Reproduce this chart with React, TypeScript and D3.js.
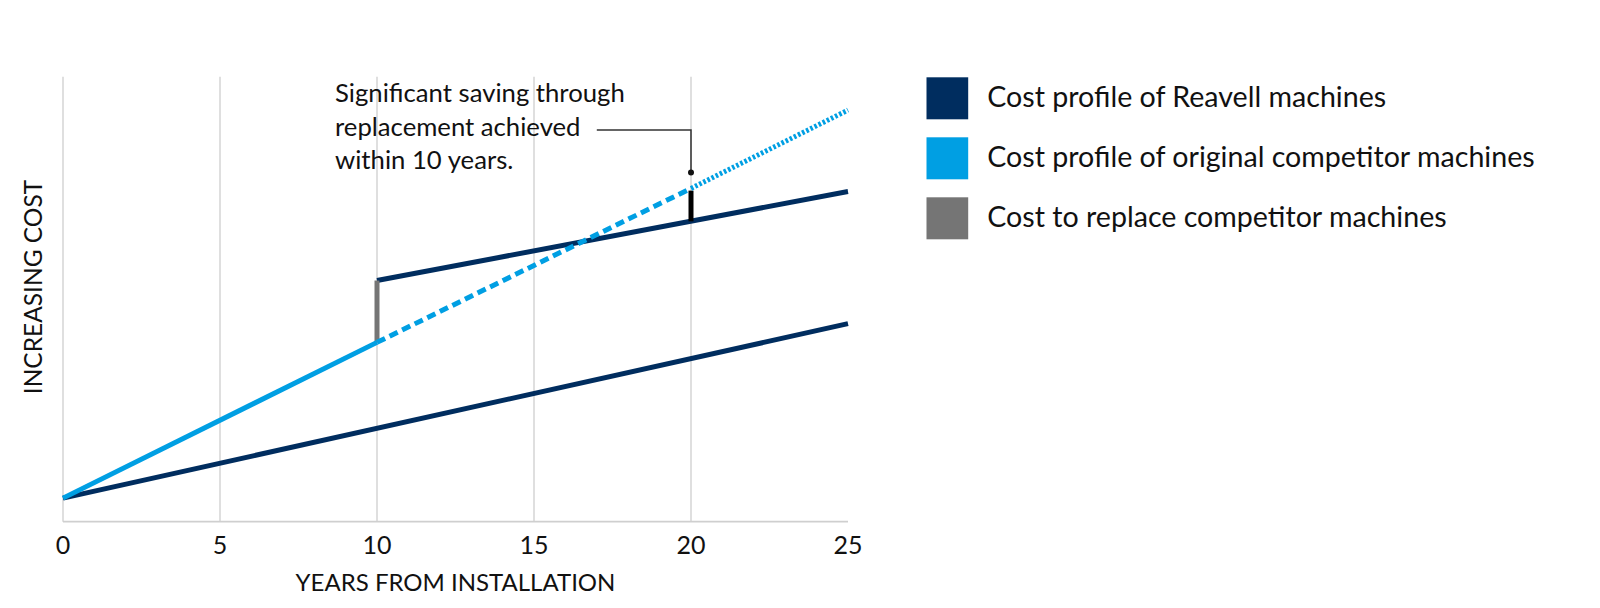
import React from "react";
import * as d3 from "d3";

type Pt = { year: number; cost: number };

// ---- Data (years from installation vs. relative cost index) ----
const yearTicks = [0, 5, 10, 15, 20, 25];
const gridYears = [0, 5, 10, 15, 20];

const reavellOriginal: Pt[] = [
  { year: 0, cost: 5.3 },
  { year: 25, cost: 44.5 },
];
const reavellAfterReplacement: Pt[] = [
  { year: 10, cost: 54.2 },
  { year: 25, cost: 74.2 },
];
const competitorActual: Pt[] = [
  { year: 0, cost: 5.3 },
  { year: 10, cost: 40.3 },
];
const competitorProjected: Pt[] = [
  { year: 10, cost: 40.3 },
  { year: 20, cost: 74.9 },
];
const competitorLongTerm: Pt[] = [
  { year: 20, cost: 74.9 },
  { year: 25, cost: 92.5 },
];
const replacementCost: Pt[] = [
  { year: 10, cost: 40.3 },
  { year: 10, cost: 54.2 },
];
const savingGap: Pt[] = [
  { year: 20, cost: 67.5 },
  { year: 20, cost: 74.4 },
];
const annotationConnector: Pt[] = [
  { year: 17.0, cost: 88.0 },
  { year: 20, cost: 88.0 },
  { year: 20, cost: 78.5 },
];
const annotationLines = [
  "Significant saving through",
  "replacement achieved",
  "within 10 years.",
];
const legendLabels = [
  "Cost profile of Reavell machines",
  "Cost profile of original competitor machines",
  "Cost to replace competitor machines",
];

const NAVY = "#002D5F";
const BLUE = "#009FE3";
const GREY = "#757575";
const FONT = "Lato, 'Open Sans', sans-serif";

export default function App() {
  const width = 1600;
  const height = 608;
  const x = d3.scaleLinear().domain([0, 25]).range([63, 848]);
  const y = d3.scaleLinear().domain([0, 100]).range([521.7, 76.7]);
  const line = d3
    .line<Pt>()
    .x((d) => x(d.year))
    .y((d) => y(d.cost));

  const legendColors = [NAVY, BLUE, GREY];

  return (
    <svg
      width={width}
      height={height}
      style={{ position: "absolute", left: 0, top: 0, background: "#fff" }}
      fontFamily={FONT}
    >
      <rect width={width} height={height} fill="#fff" />
      {/* grid */}
      {gridYears.map((g) => (
        <line
          key={g}
          x1={x(g)}
          x2={x(g)}
          y1={y(100)}
          y2={y(0)}
          stroke="#d2d2d2"
          strokeWidth={1.4}
        />
      ))}
      <line x1={x(0)} x2={x(25)} y1={y(0)} y2={y(0)} stroke="#cfcfcf" strokeWidth={1.8} />

      {/* tick labels */}
      {yearTicks.map((t) => (
        <text
          key={t}
          x={x(t)}
          y={554}
          textAnchor="middle"
          fontSize={25}
          fill="#111"
        >
          {t}
        </text>
      ))}
      <text x={(x(0) + x(25)) / 2} y={590.5} textAnchor="middle" fontSize={24} fill="#111">
        YEARS FROM INSTALLATION
      </text>
      <text
        transform={`translate(41.5,${287}) rotate(-90)`}
        textAnchor="middle"
        fontSize={24.5}
        fill="#111"
      >
        INCREASING COST
      </text>

      {/* series */}
      <path d={line(reavellOriginal) || ""} fill="none" stroke={NAVY} strokeWidth={5} />
      <path d={line(reavellAfterReplacement) || ""} fill="none" stroke={NAVY} strokeWidth={5} />
      <path d={line(replacementCost) || ""} fill="none" stroke={GREY} strokeWidth={5} />
      <path d={line(savingGap) || ""} fill="none" stroke="#000" strokeWidth={5} />
      <path d={line(competitorActual) || ""} fill="none" stroke={BLUE} strokeWidth={5} />
      <path
        d={line(competitorProjected) || ""}
        fill="none"
        stroke={BLUE}
        strokeWidth={5}
        strokeDasharray="9,5"
      />
      <path
        d={line(competitorLongTerm) || ""}
        fill="none"
        stroke={BLUE}
        strokeWidth={5}
        strokeDasharray="2.6,2"
      />

      {/* annotation */}
      <path d={line(annotationConnector) || ""} fill="none" stroke="#333" strokeWidth={1.5} />
      <circle
        cx={x(annotationConnector[2].year)}
        cy={y(annotationConnector[2].cost)}
        r={3}
        fill="#111"
      />
      {annotationLines.map((t, i) => (
        <text key={i} x={335} y={101.7 + i * 33.8} fontSize={25.7} fill="#111">
          {t}
        </text>
      ))}

      {/* legend */}
      {legendLabels.map((l, i) => (
        <g key={l} transform={`translate(926.5,${77.3 + i * 60})`}>
          <rect width={41.7} height={42} fill={legendColors[i]} />
          <text x={60.8} y={29.4} fontSize={28.6} fill="#111">
            {l}
          </text>
        </g>
      ))}
    </svg>
  );
}
